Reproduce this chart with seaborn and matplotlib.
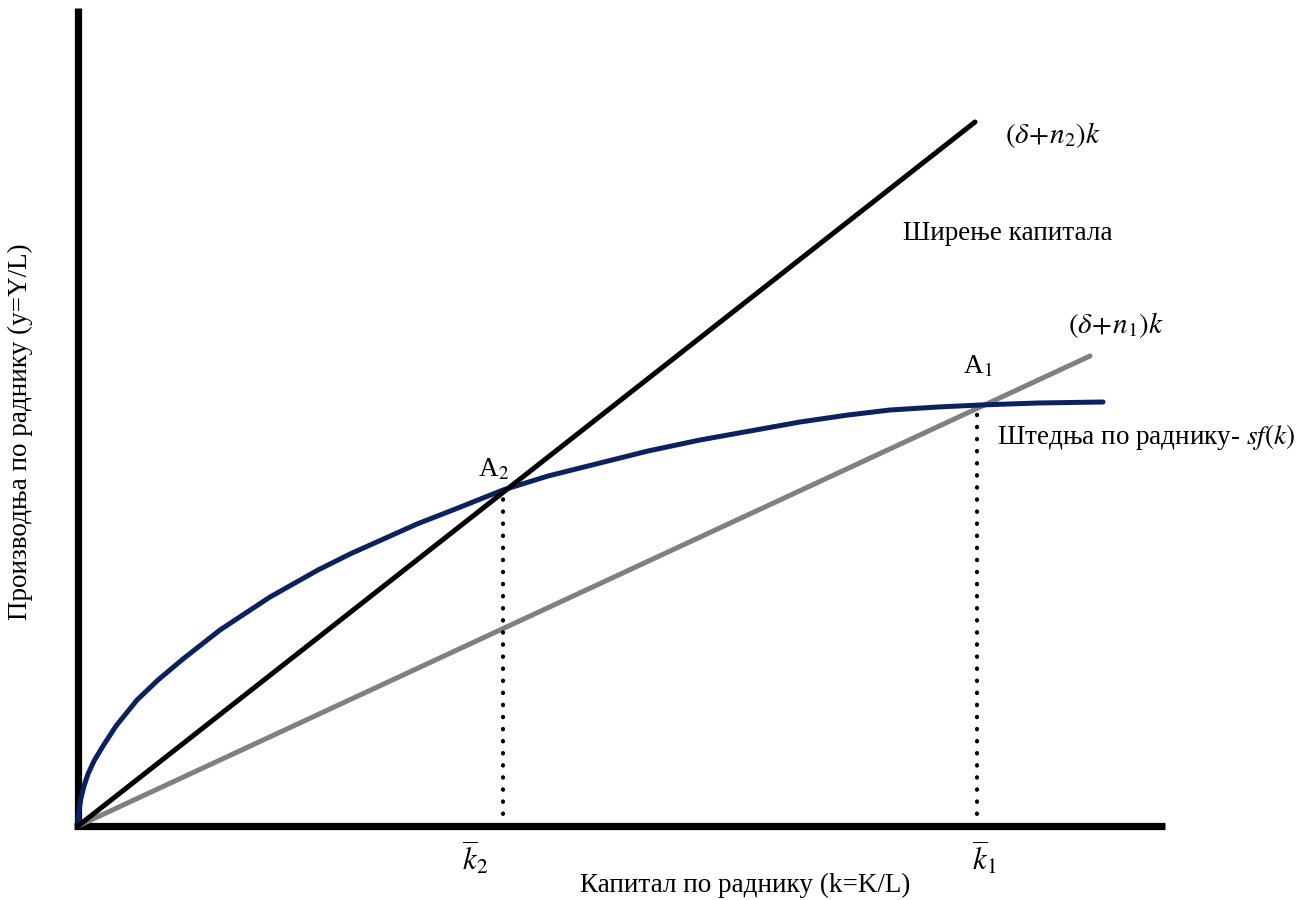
import numpy as np
import pandas as pd
import matplotlib
matplotlib.use('Agg')
import matplotlib.pyplot as plt
import seaborn as sns

# points (k, sf(k))
k_curve = [0, 1, 3, 6, 10, 16, 25, 38, 59, 80, 105, 142, 192, 240, 272, 339, 380, 425,
           470, 522, 570, 622, 672, 722, 770, 812, 860, 902, 960, 1025]
sf_curve = [0, 15, 28, 40, 52, 65, 80, 100, 126, 146, 167, 196, 229, 256, 272, 302, 318, 336,
            350, 363, 375, 386, 395, 404, 411, 416, 419, 421, 423, 424]

# straight lines: (delta+n2)k and (delta+n1)k
k_n2 = [0, 897]
y_n2 = [0, 704]
k_n1 = [0, 1012]
y_n1 = [0, 470]

# steady states
k_bar = [425, 899]
y_bar = [334, 421]

sns.set_theme(style='white')
plt.rcParams['font.family'] = ['Liberation Serif', 'DejaVu Serif']
plt.rcParams['mathtext.fontset'] = 'stix'
plt.rcParams['text.color'] = 'black'

fig = plt.figure(figsize=(13.04, 9), dpi=100)
ax = fig.add_axes([0, 0, 1, 1])
ax.set_xlim(-78, 1226)
ax.set_ylim(-74, 826)
ax.axis('off')

# axes drawn as thick lines
ax.plot([0, 0], [0, 818], color='black', lw=5.2, solid_capstyle='butt')
ax.plot([-4, 1087], [0, 0], color='black', lw=5.2, solid_capstyle='butt')

sns.lineplot(x=k_n1, y=y_n1, color='#808080', lw=3.6, ax=ax)
sns.lineplot(x=k_curve, y=sf_curve, color='#0b2160', lw=3.6, ax=ax, sort=False, estimator=None)
sns.lineplot(x=k_n2, y=y_n2, color='black', lw=3.6, ax=ax)

for kb, yb in zip(k_bar, y_bar):
    ax.plot([kb, kb], [0, yb], color='black', lw=3, linestyle=(0, (0.1, 2.8)),
            dash_capstyle='round')

fs = 19.5
ms = 21
ax.text(927, 691, r'$(\delta\!+\!n_2)k$', fontsize=ms, ha='left', va='center')
ax.text(825, 593, 'Ширење капитала', fontsize=fs, ha='left', va='center')
ax.text(990, 501, r'$(\delta\!+\!n_1)k$', fontsize=ms, ha='left', va='center')
ax.text(885, 459, r'A$_1$', fontsize=fs, ha='left', va='center')
ax.text(400, 356, r'A$_2$', fontsize=fs, ha='left', va='center')
ax.text(919, 389, r'Штедња по раднику- $sf(k)$', fontsize=fs, ha='left', va='center')

ax.text(k_bar[0] - 41, -32, r'$\overline{k}_2$', fontsize=22, ha='left', va='center')
ax.text(k_bar[1] - 5, -32, r'$\overline{k}_1$', fontsize=22, ha='left', va='center')

ax.text(667, -59, 'Капитал по раднику (k=K/L)', fontsize=fs, ha='center', va='center')
ax.text(-58, 394, 'Производња по раднику (y=Y/L)', fontsize=fs, ha='center', va='center',
        rotation=90)

fig.savefig('out.png', dpi=100, facecolor='white')
